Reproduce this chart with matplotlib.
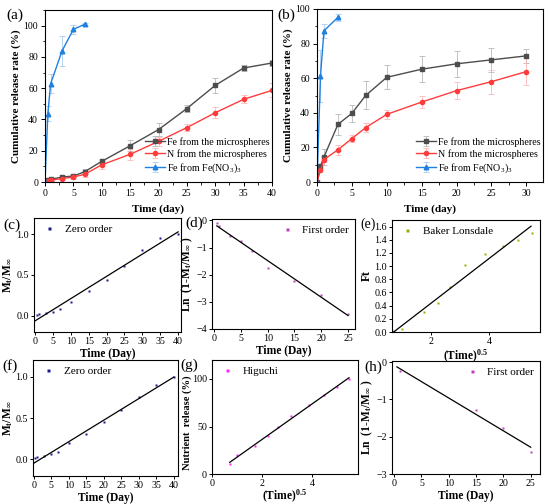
import numpy as np
import matplotlib
matplotlib.use('Agg')
import matplotlib.pyplot as plt
from matplotlib.ticker import MultipleLocator

plt.rcParams['font.family'] = ['Liberation Serif', 'DejaVu Serif']
plt.rcParams['mathtext.fontset'] = 'custom'
plt.rcParams['mathtext.rm'] = 'Liberation Serif'
plt.rcParams['mathtext.bf'] = 'Liberation Serif:bold'
plt.rcParams['mathtext.default'] = 'bf'
plt.rcParams['xtick.direction'] = 'out'
plt.rcParams['ytick.direction'] = 'out'
plt.rcParams['axes.linewidth'] = 0.8

# ---- data ----
# (a) and (b): cumulative release rate (%)
a_days = [0, 0.5, 1, 3, 5, 7, 10, 15, 20, 25, 30, 35, 40]
a_fe = [0, 1.2, 1.7, 3.2, 3.8, 6.6, 13.2, 23.2, 33.5, 47.0, 61.8, 72.9, 76.1]
a_fe_err = [0, 0.5, 1, 1, 1.5, 1.5, 1.5, 3.5, 4, 2.5, 5, 2, 2]
a_n = [0, 0.8, 1.2, 2.2, 3.2, 4.9, 11.0, 17.7, 26.0, 34.8, 44.3, 52.9, 58.6]
a_n_err = [0, 0.5, 0.5, 1, 1, 1.5, 3, 3.5, 3, 2.5, 3.5, 2.5, 4.5]
a_salt_days = [0, 0.5, 1, 3, 5, 7]
a_salt = [0, 43.7, 62.9, 83.8, 97.6, 100.9]
a_salt_err = [0, 5, 6, 9.5, 3, 1]

b_days = [0, 0.5, 1, 3, 5, 7, 10, 15, 20, 25, 30]
b_fe = [0, 9.1, 14.5, 33.3, 39.7, 50.1, 60.5, 65.2, 68.3, 70.6, 72.9]
b_fe_err = [0, 1, 4.5, 6, 5, 8, 7, 7.5, 7.5, 7, 4]
b_n = [0, 6.8, 13.0, 18.6, 25.1, 31.5, 39.1, 46.2, 52.8, 58.0, 63.8]
b_n_err = [0, 1, 1.5, 3, 2, 2.5, 2.5, 3.5, 5, 7, 8]
b_salt_days = [0, 0.5, 1, 3]
b_salt = [0, 61.3, 87.4, 95.2]
b_salt_err = [0, 15, 4, 2]

# (c)-(h): kinetic model fits
c_t = [0.5, 1, 3, 5, 7, 10, 15, 20, 25, 30, 35, 40]
c_y = [0.01, 0.02, 0.03, 0.05, 0.08, 0.17, 0.30, 0.44, 0.61, 0.81, 0.955, 1.0]
d_t = [0.5, 1, 3, 5, 7, 10, 15, 20, 25]
d_y = [-0.09, -0.19, -0.57, -0.77, -1.12, -1.75, -2.22, -2.73, -3.44]
e_t = [0.5, 1, 3, 5, 7, 10, 15, 20, 25, 30]
e_y = [0.01, 0.04, 0.30, 0.435, 0.69, 1.02, 1.19, 1.30, 1.40, 1.50]
f_t = [0.5, 1, 3, 5, 7, 10, 15, 20, 25, 30, 35, 40]
f_y = [0.016, 0.024, 0.044, 0.064, 0.088, 0.197, 0.305, 0.446, 0.594, 0.751, 0.896, 1.0]
g_t = [0.5, 1, 3, 5, 7, 10, 15, 20, 25, 30]
g_y = [10.1, 20.3, 29.0, 39.5, 49.3, 61.2, 72.4, 82.9, 91.3, 100.0]
h_t = [1, 15, 20, 25]
h_y = [-0.24, -1.28, -1.76, -2.42]

fig = plt.figure(figsize=(5.5, 5.04), dpi=100)
W, H = 550., 504.

LAB = 8.3   # axis label size of the small panels
TICK = 7.2


def add_ax(left, top, right, bottom):
    return fig.add_axes([left / W, 1 - bottom / H, (right - left) / W, (bottom - top) / H])


def release_panel(ax, days, fe, fe_err, n, n_err, sdays, salt, salt_err):
    ax.errorbar(days, fe, yerr=fe_err, fmt='-s', color='#4d4d4d', ms=3, lw=1,
                ecolor='#b8b8b8', elinewidth=0.6, capsize=2, capthick=0.6,
                label='Fe from the microspheres')
    ax.errorbar(days, n, yerr=n_err, fmt='-o', color='#ff3c3c', ms=3, lw=1,
                ecolor='#ffb8b8', elinewidth=0.6, capsize=2, capthick=0.6,
                label='N from the microspheres')
    ax.errorbar(sdays, salt, yerr=salt_err, fmt='-^', color='#1f80e0', ms=3.3, lw=1,
                ecolor='#a8ccf0', elinewidth=0.6, capsize=2, capthick=0.6,
                label=r'Fe from Fe(NO$_{\mathrm{3}}$)$_{\mathrm{3}}$')
    ax.set_ylabel('Cumulative release rate (%)', fontsize=8, fontweight='bold', labelpad=2)
    ax.set_xlabel('Time (day)', fontsize=8, fontweight='bold', labelpad=5)
    ax.tick_params(labelsize=7, length=3, width=0.7, pad=2)
    ax.tick_params(which='minor', length=1.8, width=0.6)
    ax.xaxis.set_major_locator(MultipleLocator(5))
    ax.xaxis.set_minor_locator(MultipleLocator(2.5))
    ax.yaxis.set_major_locator(MultipleLocator(20))
    ax.yaxis.set_minor_locator(MultipleLocator(10))
    ax.legend(loc='lower right', bbox_to_anchor=(1.03, -0.01), frameon=False,
              fontsize=7.2, handlelength=2.0, handletextpad=0.2, labelspacing=0.25)


def fit_panel(ax, x, y, color, label, fit_range, loc='upper left'):
    ax.plot(x, y, 's', color=color, ms=1.8, mec='none', label=label)
    k, b = np.polyfit(x, y, 1)
    xf = np.array(fit_range)
    ax.plot(xf, k * xf + b, color='black', lw=0.9)
    ax.tick_params(labelsize=TICK, length=2.5, width=0.7, pad=1.2)
    ax.legend(loc=loc, frameon=False, fontsize=8, handlelength=1.6,
              handletextpad=0.6, borderaxespad=0.15, markerscale=1.2)


# (a)
ax_a = add_ax(45, 10, 272, 182)
release_panel(ax_a, a_days, a_fe, a_fe_err, a_n, a_n_err, a_salt_days, a_salt, a_salt_err)
ax_a.set_xlim(0, 40)
ax_a.set_ylim(0, 110)

# (b)
ax_b = add_ax(317, 9, 543, 182)
release_panel(ax_b, b_days, b_fe, b_fe_err, b_n, b_n_err, b_salt_days, b_salt, b_salt_err)
ax_b.set_xlim(0, 32.4)
ax_b.set_ylim(0, 100)

# (c)
ax_c = add_ax(34, 218, 181, 332)
fit_panel(ax_c, c_t, c_y, '#1a1a8c', 'Zero order', [0, 40])
ax_c.set_xlim(-0.3, 40.8)
ax_c.set_ylim(-0.2, 1.2)
ax_c.xaxis.set_major_locator(MultipleLocator(5))
ax_c.set_yticks([0.0, 0.5, 1.0])
ax_c.set_xlabel('Time (Day)', fontsize=LAB, fontweight='bold', labelpad=1)
ax_c.set_ylabel(r'M$_t$/M$_\infty$', fontsize=LAB, fontweight='bold', labelpad=1)

# (d)
ax_d = add_ax(212, 219, 355, 329)
fit_panel(ax_d, d_t, d_y, '#c040c0', 'First order', [0.5, 25], loc='upper right')
ax_d.set_xlim(-0.4, 26.3)
ax_d.set_ylim(-4, 0.05)
ax_d.xaxis.set_major_locator(MultipleLocator(5))
ax_d.set_yticks([0, -1, -2, -3, -4])
ax_d.set_xlabel('Time (Day)', fontsize=LAB, fontweight='bold', labelpad=1)
ax_d.set_ylabel(r'Ln  (1-M$_t$/M$_\infty$ )', fontsize=LAB, fontweight='bold', labelpad=1)

# (e)
ax_e = add_ax(392, 220, 540, 332)
fit_panel(ax_e, np.sqrt(e_t), e_y, '#9aae00', 'Baker Lonsdale', [0.64, 5.45])
ax_e.set_xlim(0.64, 5.76)
ax_e.set_ylim(0, 1.7)
ax_e.set_xticks([2, 4])
ax_e.yaxis.set_major_locator(MultipleLocator(0.2))
ax_e.set_xlabel(r'(Time)$^{0.5}$', fontsize=LAB, fontweight='bold', labelpad=1)
ax_e.set_ylabel('Ft', fontsize=LAB, fontweight='bold', labelpad=1)

# (f)
ax_f = add_ax(33, 360, 178, 476)
fit_panel(ax_f, f_t, f_y, '#1a1a8c', 'Zero order', [0, 40])
ax_f.set_xlim(-0.2, 41.2)
ax_f.set_ylim(-0.2, 1.2)
ax_f.xaxis.set_major_locator(MultipleLocator(5))
ax_f.set_yticks([0.0, 0.5, 1.0])
ax_f.set_xlabel('Time (Day)', fontsize=LAB, fontweight='bold', labelpad=1)
ax_f.set_ylabel(r'M$_t$/M$_\infty$', fontsize=LAB, fontweight='bold', labelpad=0.5)

# (g)
ax_g = add_ax(212, 360, 358, 474)
fit_panel(ax_g, np.sqrt(g_t), g_y, '#ff22ff', 'Higuchi', [0.71, 5.48])
ax_g.set_xlim(0, 5.84)
ax_g.set_ylim(0, 120)
ax_g.set_xticks([0, 2, 4])
ax_g.set_yticks([0, 50, 100])
ax_g.set_xlabel(r'(Time)$^{0.5}$', fontsize=LAB, fontweight='bold', labelpad=0)
ax_g.set_ylabel('Nutrient  release (%)', fontsize=7.6, fontweight='bold', labelpad=1)
ax_g.yaxis.set_label_coords(-0.135, 0.45)

# (h)
ax_h = add_ax(392, 361, 540, 474)
fit_panel(ax_h, h_t, h_y, '#c040c0', 'First order', [0.5, 25], loc='upper right')
ax_h.set_xlim(-0.4, 26.7)
ax_h.set_ylim(-3, 0.03)
ax_h.xaxis.set_major_locator(MultipleLocator(5))
ax_h.set_yticks([0, -1, -2, -3])
ax_h.set_xlabel('Time (Day)', fontsize=LAB, fontweight='bold', labelpad=1)
ax_h.set_ylabel(r'Ln  (1-M$_t$/M$_\infty$ )', fontsize=LAB, fontweight='bold', labelpad=1)

# panel letters
letters = ['(a)', '(b)', '(c)', '(d)', '(e)', '(f)', '(g)', '(h)']
letter_pos = [(6, 15), (277, 15), (3, 225), (185, 223), (360, 224), (2, 366), (180, 365), (364, 367)]
letter_size = [11, 11, 11, 11, 10, 11, 11, 11]
for lab, (px, py), fs in zip(letters, letter_pos, letter_size):
    fig.text(px / W, 1 - py / H, lab, fontsize=fs, va='center', ha='left')

fig.savefig('out.png', dpi=100)
